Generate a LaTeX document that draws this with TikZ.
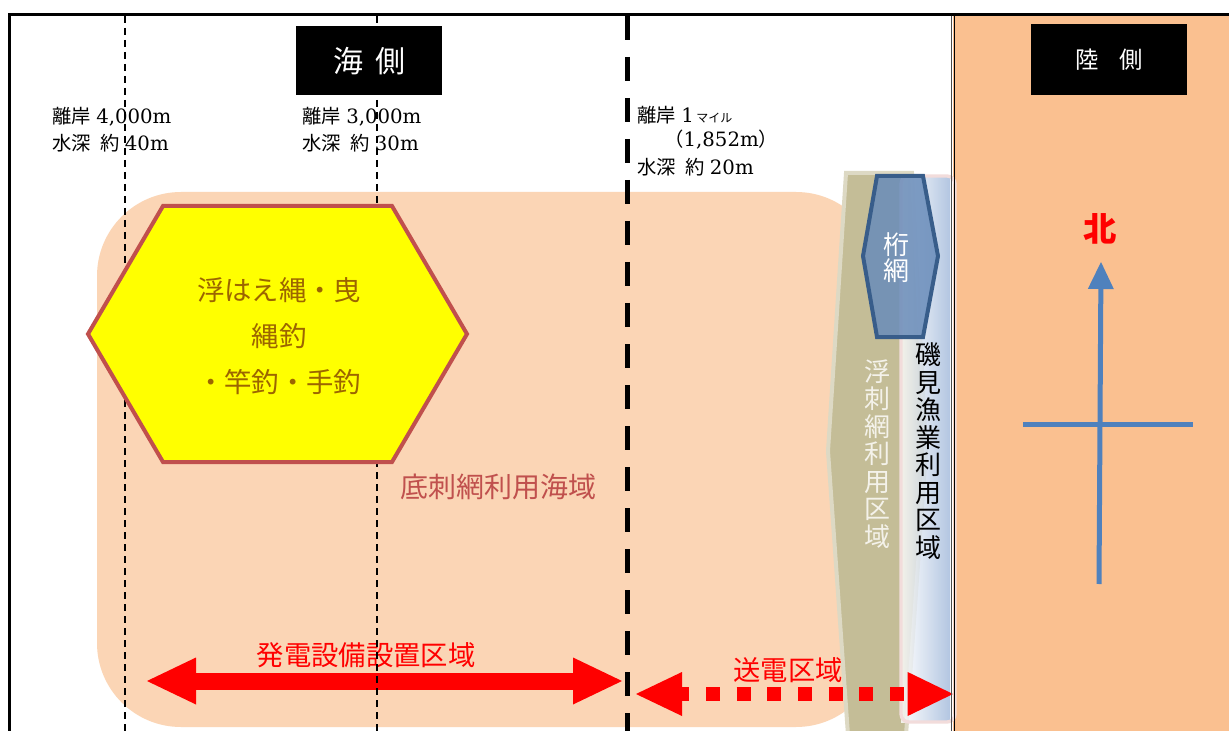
\documentclass[tikz,border=0pt]{standalone}
\usepackage{fontspec}
\newfontfamily\cjk{Noto Sans CJK JP}
\newfontfamily\numf{DejaVu Serif}
\usetikzlibrary{arrows.meta}
\definecolor{peach}{RGB}{251,213,181}
\definecolor{landc}{RGB}{250,192,144}
\definecolor{beige}{RGB}{196,189,151}
\definecolor{beigeb}{RGB}{221,217,196}
\definecolor{hexred}{RGB}{192,80,77}
\definecolor{hextxt}{RGB}{156,101,0}
\definecolor{pinkb}{RGB}{242,220,219}
\definecolor{gradb}{RGB}{160,184,218}
\definecolor{netfill}{RGB}{105,140,186}
\definecolor{netline}{RGB}{56,93,138}
\definecolor{compass}{RGB}{79,129,189}
\definecolor{vtxt}{RGB}{244,242,234}
\definecolor{pureyellow}{RGB}{255,255,0}
\newcommand\jl[1]{{\cjk\fontsize{14.5}{18}\selectfont #1}}
\tikzset{
  thinrule/.style={line width=1.1pt, dash pattern=on 5.25pt off 3.75pt},
  thickrule/.style={line width=3.75pt, dash pattern=on 18pt off 12.75pt},
  blackbox/.style={fill=black, text=white, inner sep=0pt},
  lbl/.style={anchor=west, inner sep=0pt, font=\numf\fontsize{14.8}{18}\selectfont},
  zonetxt/.style={font=\cjk\fontsize{20.5}{24}\selectfont, text=red, inner sep=0pt},
  vtext/.style={align=center, inner sep=0pt, font=\cjk\fontsize{19.5}{20.6}\selectfont},
  bigarrow/.style={red, line width=12.75pt,
    {Triangle[length=36.75pt,width=35.25pt,line width=0pt]}-{Triangle[length=36.75pt,width=35.25pt,line width=0pt]}},
  dotarrow/.style={red, line width=10.5pt, dash pattern=on 10.5pt off 12.5pt, dash phase=5pt,
    {Triangle[length=34.5pt,width=33pt,line width=0pt]}-{Triangle[length=34pt,width=33pt,line width=0pt]}},
  northarrow/.style={compass, line width=3.75pt, -{Triangle[length=20.25pt,width=19.5pt,line width=0pt]}},
}
\begin{document}
\begin{tikzpicture}[x=0.75pt,y=-0.75pt]
\useasboundingbox (0,0) rectangle (1229,731);
\fill[white] (0,0) rectangle (1229,731);
% sea zone of bottom gill nets
\fill[peach, rounded corners=63pt] (97,192) rectangle (880,727);
% land
\fill[landc] (953,16) rectangle (1229,731);
% floating gill net zone and Isomi zone
\fill[beige, draw=beigeb, line width=3pt] (846,173) -- (912,173) -- (926,451) -- (906,735) -- (848,735) -- (828,451) -- cycle;
\shade[left color=white, right color=gradb, opacity=0.8] (901,176) rectangle (950,722);
\draw[pinkb, line width=2.5pt, rounded corners=6pt] (901,176) -- (955,176) -- (955,722) -- (901,722) -- cycle;
% red arrows
\coordinate (g1) at (147,681);
\coordinate (g2) at (622,681);
\draw[bigarrow] (g1) -- (g2);
\node[zonetxt] (gtxt) at (366,655) {発電設備設置区域};
\coordinate (s1) at (636,694);
\coordinate (s2) at (953,694);
\draw[dotarrow] (s1) -- (s2);
\node[zonetxt] (stxt) at (788,670) {送電区域};
% distance lines
\coordinate (d1a) at (125,16); \coordinate (d1b) at (125,731);
\coordinate (d2a) at (377,16); \coordinate (d2b) at (377,731);
\coordinate (d3a) at (627,16); \coordinate (d3b) at (627,731);
\draw[thinrule] (d1a) -- (d1b);
\draw[thinrule] (d2a) -- (d2b);
\draw[thickrule] (d3a) -- (d3b);
% hexagon of longline fishing
\draw[fill=pureyellow, draw=hexred, line width=3pt] (163,206) -- (392,206) -- (467,334) -- (392,462) -- (163,462) -- (88,334) -- cycle;
\node[align=center, inner sep=0pt, text=hextxt, font=\cjk\fontsize{20.5}{34.5}\selectfont] (fish) at (279,336) {浮はえ縄・曳\\縄釣\\・竿釣・手釣};
\node[inner sep=0pt, text=hexred, font=\cjk\fontsize{21}{24}\selectfont] (sokosashi) at (498,487) {底刺網利用海域};
% headers
\node[blackbox, minimum width=109.5pt, minimum height=51.75pt, font=\cjk\fontsize{22.5}{24}\selectfont] (sea) at (369,61) {海\hspace{9pt}側};
\node[blackbox, minimum width=117pt, minimum height=53.25pt, font=\cjk\fontsize{17.5}{22}\selectfont] (landh) at (1109,59.5) {陸\hspace{16pt}側};
% labels
\node[lbl] (a1) at (52,117) {\jl{離岸}\hspace{4pt}4,000m};
\node[lbl] (a2) at (52,143) {\jl{水深}\hspace{7pt}\jl{約}\hspace{4pt}40m};
\node[lbl] (b1) at (302,117) {\jl{離岸}\hspace{4pt}3,000m};
\node[lbl] (b2) at (302,143) {\jl{水深}\hspace{7pt}\jl{約}\hspace{4pt}30m};
\node[lbl] (c1) at (637,115) {\jl{離岸}\hspace{4pt}1\hspace{2pt}{\cjk\fontsize{9}{12}\selectfont マイル}};
\node[lbl] (c2) at (664,140) {\jl{（}1,852m\jl{）}};
\node[lbl] (c3) at (637,167) {\jl{水深}\hspace{7pt}\jl{約}\hspace{4pt}20m};
% beam trawl
\draw[fill=netfill, fill opacity=0.85, draw=netline, line width=3pt] (877,176) -- (923,176) -- (938,256) -- (923,337) -- (877,337) -- (863,256) -- cycle;
\node[align=center, inner sep=0pt, text=white, font=\cjk\fontsize{19.5}{19.5}\selectfont] (keta) at (896,258) {桁\\網};
% vertical texts
\node[vtext, text=vtxt] (ukisashi) at (877,454) {浮\\刺\\網\\利\\用\\区\\域};
\node[vtext, text=black] (isomi) at (928,451) {磯\\見\\漁\\業\\利\\用\\区\\域};
% compass
\node[inner sep=0pt, text=red, font=\cjk\bfseries\fontsize{25}{28}\selectfont] (north) at (1100,229) {北};
\coordinate (n0) at (1099,584);
\coordinate (n1) at (1101,262);
\coordinate (e0) at (1023,424);
\coordinate (e1) at (1193,424);
\draw[northarrow] (n0) -- (n1);
\draw[compass, line width=3.75pt] (e0) -- (e1);
% frame
\coordinate (f0) at (9.5,731);
\coordinate (f1) at (9.5,14.5);
\coordinate (f2) at (1229,14.5);
\draw[line width=2.4pt] (f0) -- (f1) -- (f2);
\coordinate (w0) at (951.5,16); \coordinate (w1) at (951.5,731);
\coordinate (v0) at (954.5,16); \coordinate (v1) at (954.5,731);
\draw[line width=1pt, black!70] (w0) -- (w1);
\draw[line width=0.8pt] (v0) -- (v1);
\end{tikzpicture}
\end{document}
